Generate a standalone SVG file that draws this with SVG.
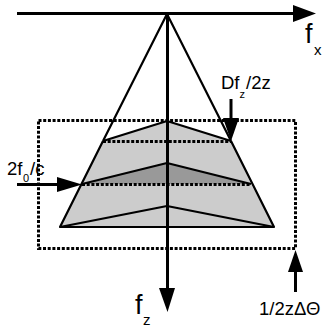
<svg xmlns="http://www.w3.org/2000/svg" width="323" height="331" viewBox="0 0 323 331">
<defs>
<style>
text{font-family:"Liberation Sans",Arial,sans-serif;fill:#000}
.o{fill:none;stroke:#000;stroke-width:2.2;stroke-linejoin:round}
.a{stroke:#000;stroke-width:3;fill:none}
.d{fill:none;stroke:#000;stroke-width:3;stroke-dasharray:3 1.700}
.h{fill:#000}
.b{font-size:18.500px}
.s{font-size:11px}
.f{font-size:27px}
</style>
</defs>
<g id="shading">
<polygon points="103,141 167,121 231,141 251,184 274,227 60,227 82,184" fill="#cccccc"/>
<polygon points="82,184 167,163 251,184" fill="#999999"/>
</g>
<g id="pyramid">
<polyline class="o" points="103,141 167,14 231,141"/>
<polyline class="o" points="103,141 167,121 231,141"/>
<polyline class="o" points="103,141 60,227 274,227 231,141"/>
<polyline class="o" points="82,184 167,163 251,184"/>
<polyline class="o" points="60,227 167,206 274,227"/>
</g>
<g id="dotted">
<rect class="d" x="38.500" y="120.500" width="257" height="128"/>
<line class="d" x1="103" y1="141.500" x2="231" y2="141.500"/>
<line class="d" x1="82" y1="184.500" x2="251" y2="184.500"/>
</g>
<g id="connectors">
<line class="a" x1="17" y1="13.500" x2="296" y2="13.500"/>
<polygon class="h" points="293,5 316,13.500 293,22"/>
<line class="a" x1="167.500" y1="14" x2="167.500" y2="292"/>
<polygon class="h" points="159,288 175,288 167.500,312"/>
<line class="a" x1="231" y1="99" x2="231" y2="120"/>
<polygon class="h" points="223,118 239,118 231,141"/>
<line class="a" x1="17" y1="184.500" x2="60" y2="184.500"/>
<polygon class="h" points="57,177 57,192 82,184.500"/>
<line class="a" x1="295.500" y1="292" x2="295.500" y2="270"/>
<polygon class="h" points="288,272 303,272 295.500,250"/>
</g>
<g id="labels">
<text x="305" y="43" class="f">f</text>
<text x="314" y="55" font-size="15">x</text>
<text x="221" y="89" class="b">Df</text>
<text x="239.500" y="98" class="s">z</text>
<text x="246" y="89" class="b">/2z</text>
<text x="7" y="175" class="b">2f</text>
<text x="23" y="182" class="s">0</text>
<text x="30" y="175" class="b">/c</text>
<text x="135" y="314" class="f">f</text>
<text x="143" y="325" font-size="15">z</text>
<text x="259" y="315" class="b">1/2zΔΘ</text>
</g>
</svg>
